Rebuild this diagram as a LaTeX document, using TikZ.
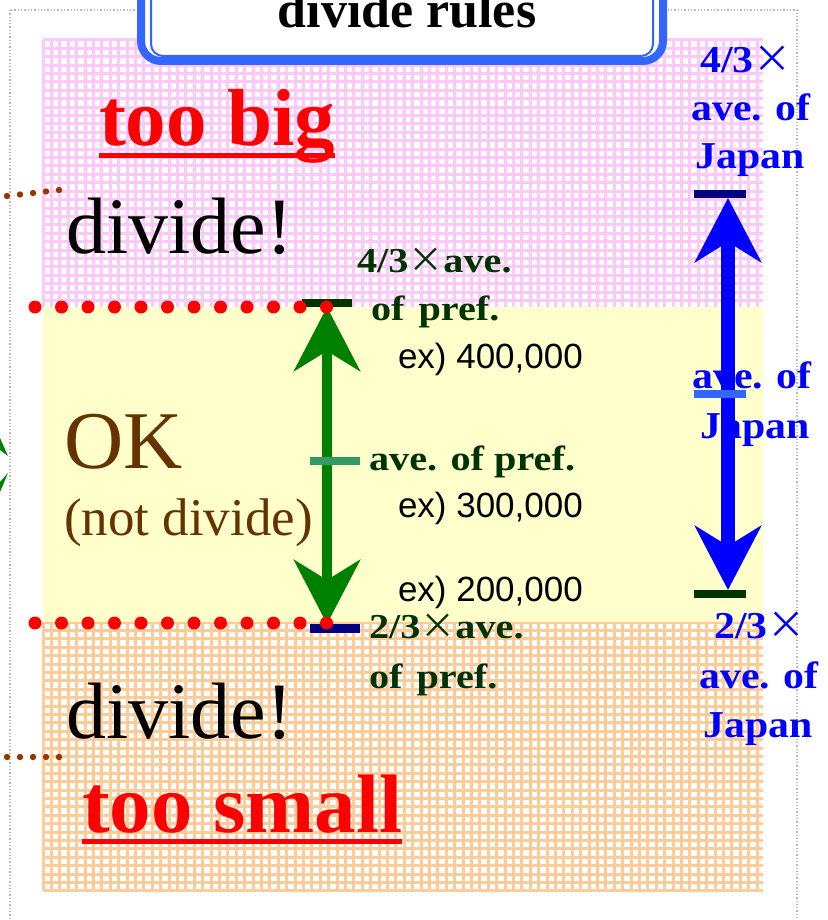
\documentclass[tikz,border=0pt]{standalone}
\usepackage{fontspec}
\setmainfont{Liberation Serif}
\setsansfont{Liberation Sans}
\newfontfamily\lblfont{Liberation Serif}[FakeStretch=1.15]
\newfontfamily\bluefont{Liberation Serif}[FakeStretch=1.1]
\newfontfamily\cjkfont{Noto Sans CJK JP}
\usetikzlibrary{arrows.meta}
\newcommand\tms{{\cjkfont\mdseries ×}}
\definecolor{pinkgrid}{RGB}{255,200,250}
\definecolor{orgrid}{RGB}{255,204,153}
\definecolor{okyellow}{RGB}{255,255,204}
\definecolor{titleblue}{RGB}{51,102,255}
\definecolor{lbgreen}{RGB}{0,51,0}
\definecolor{arrgreen}{RGB}{0,128,0}
\definecolor{midgreen}{RGB}{51,153,102}
\definecolor{navyb}{RGB}{0,0,128}
\definecolor{okbrown}{RGB}{102,51,0}
\definecolor{dotbrown}{RGB}{153,51,0}
\definecolor{midblue}{RGB}{51,102,255}
\begin{document}
\begin{tikzpicture}[x=1pt,y=-1pt,
  every node/.style={inner sep=0pt, outer sep=0pt},
  bigtxt/.style={font=\fontsize{80}{80}\selectfont},
  redtxt/.style={font=\bfseries\fontsize{81}{81}\selectfont, text=red},
  grlbl/.style={font=\lblfont\bfseries\fontsize{35}{35}\selectfont, text=lbgreen, anchor=base west},
  exlbl/.style={font=\sffamily\fontsize{35}{35}\selectfont, text=black, anchor=base west},
  bllbl/.style={font=\bluefont\bfseries\fontsize{38}{38}\selectfont, text=blue, anchor=base},
  bar/.style={minimum width=50pt, minimum height=8pt, draw=none},
  greenarrow/.style={arrgreen, line width=10pt, {Stealth[length=64pt,width=66pt,inset=20pt]}-{Stealth[length=64pt,width=66pt,inset=20pt]}},
  bluearrow/.style={blue, line width=14pt, {Stealth[length=64pt,width=66pt,inset=20pt]}-{Stealth[length=64pt,width=66pt,inset=20pt]}},
  reddot/.style={fill=red},
  browndot/.style={fill=dotbrown}]
\useasboundingbox (0,0) rectangle (827,920);
\clip (0,0) rectangle (827,920);
% outer dotted frame
\draw[gray!55, dotted, line width=1.3pt] (10,10) rectangle (797,960);
% regions
\fill[white] (43,40) rectangle (763,890);
\foreach \i in {0,...,85} {
  \draw[pinkgrid, line width=3pt] (43+\i*8.4,40) -- (43+\i*8.4,307);
  \draw[orgrid, line width=3pt] (43+\i*8.4,622) -- (43+\i*8.4,890);
}
\foreach \j in {0,...,31} {
  \draw[pinkgrid, line width=3pt] (43,40+\j*8.4) -- (763,40+\j*8.4);
}
\foreach \j in {0,...,32} {
  \draw[orgrid, line width=3pt] (43,622+\j*8.4) -- (763,622+\j*8.4);
}
\fill[okyellow] (43,307) rectangle (763,622);
% title box
\draw[titleblue, line width=8pt, fill=white, rounded corners=20pt] (141,-40) rectangle (663,61);
\draw[titleblue, line width=2pt, rounded corners=12pt] (151,-40) rectangle (653,56);
\node[anchor=base, font=\bfseries\fontsize{52}{52}\selectfont] (title) at (407,28) {divide rules};
% left texts
\node[redtxt, anchor=base west] (big) at (99,146) {too big};
\draw[red, line width=5pt] ([yshift=-10pt]big.base west) -- ([yshift=-10pt]big.base east);
\node[bigtxt, anchor=base west] (div1) at (66,253) {divide!};
\node[font=\fontsize{82}{82}\selectfont, text=okbrown, anchor=base west] (ok) at (64,468) {OK};
\node[font=\fontsize{53}{53}\selectfont, text=okbrown, anchor=base west] (notdiv) at (64,535) {(not divide)};
\node[bigtxt, anchor=base west] (div2) at (66,738) {divide!};
\node[redtxt, font=\bfseries\fontsize{83}{83}\selectfont, anchor=base west] (small) at (82,832) {too small};
\draw[red, line width=5pt] ([yshift=-9pt]small.base west) -- ([yshift=-9pt]small.base east);
% brown dotted leaders
\foreach \i in {0,...,4} \fill[browndot] (7+\i*13,196-\i*1.5) circle[radius=3.2pt];
\foreach \i in {0,...,4} \fill[browndot] (7+\i*13,757) circle[radius=3.2pt];
% left green wedges
\fill[arrgreen] (0,438) -- (8,456) -- (0,450) -- cycle;
\fill[arrgreen] (0,492) -- (8,473) -- (0,482) -- cycle;
% green labels
\node[grlbl] (g1) at (357,272) {4/3\tms ave.};
\node[grlbl] (g2) at (371,320) {of\hspace{0.4em}pref.};
\node[grlbl] (g3) at (369,470) {ave. of pref.};
\node[grlbl] (g4) at (369,638) {2/3\tms ave.};
\node[grlbl] (g5) at (369,688) {of\hspace{0.4em}pref.};
\node[exlbl] (e1) at (398,368) {ex) 400,000};
\node[exlbl] (e2) at (398,517) {ex) 300,000};
\node[exlbl] (e3) at (398,601) {ex) 200,000};
% blue labels
\node[bllbl] (b1) at (746,73) {4/3\tms};
\node[bllbl] (b2) at (751,121) {ave. of};
\node[bllbl] (b3) at (750,168) {Japan};
\node[bllbl] (b4) at (752,388) {ave. of};
\node[bllbl] (b5) at (755,438) {Japan};
\node[bllbl] (b6) at (760,638) {2/3\tms};
\node[bllbl] (b7) at (759,688) {ave. of};
\node[bllbl] (b8) at (758,737) {Japan};
% green arrow with bars
\coordinate (gx) at (327,0);
\node[bar, fill=lbgreen] (gtop) at (326.5,303) {};
\node[bar, fill=navyb, minimum height=9pt] (gbot) at (335,628.5) {};
\draw[greenarrow] (gtop.south -| gx) -- (gbot.north -| gx);
\node[bar, fill=midgreen] (gmid) at (335,461) {};
% blue arrow with bars
\coordinate (bx) at (728,0);
\node[bar, fill=navyb, minimum width=52pt] (btop) at (720,194) {};
\node[bar, fill=lbgreen, minimum width=52pt] (bbot) at (720,594) {};
\draw[bluearrow] (btop.south -| bx) -- (bbot.north -| bx);
\node[bar, fill=midblue, minimum width=52pt] (bmid) at (720,394) {};
% red dotted lines
\foreach \i in {0,...,11} {
  \fill[reddot] (35+\i*26.5,307) circle[radius=6.5pt];
  \fill[reddot] (35+\i*26.5,623) circle[radius=6.5pt];
}
\end{tikzpicture}
\end{document}
